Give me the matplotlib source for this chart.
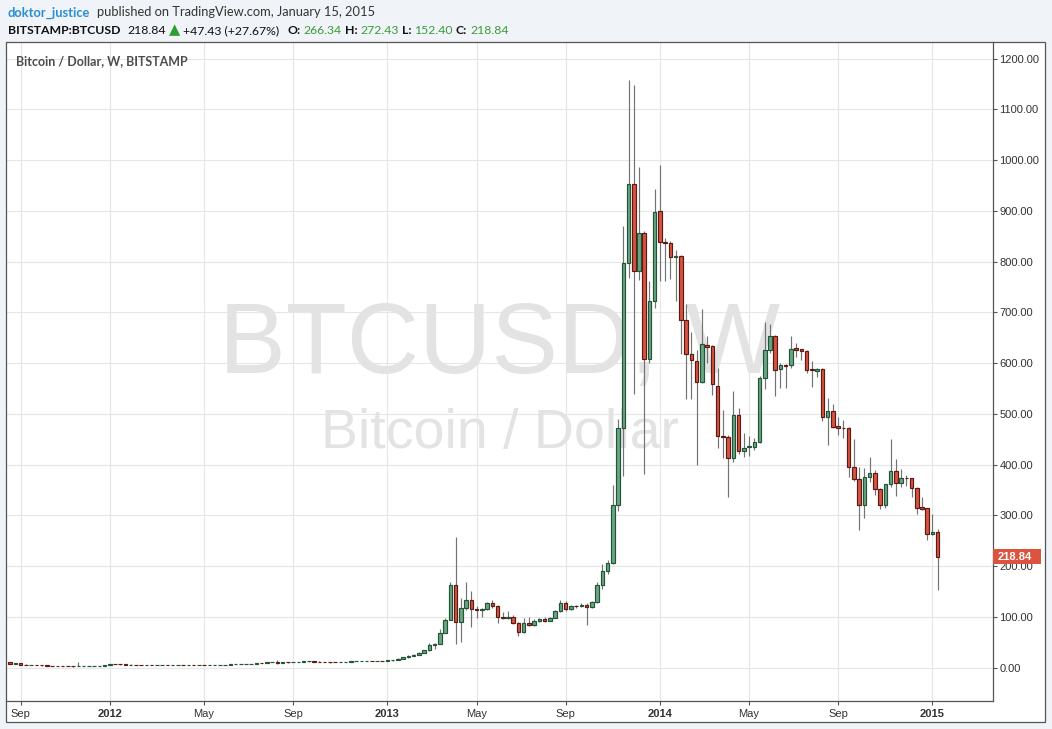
import matplotlib
matplotlib.use("Agg")
import matplotlib.pyplot as plt
import matplotlib.dates as mdates
from matplotlib.patches import Rectangle
import pandas as pd

W, H = 1052, 729

# ---------------- data (weekly BITSTAMP:BTCUSD) ----------------
start_week = "2011-08-22"

opens = [
    10.8, 7.9, 8.3, 5.9, 5.1, 5.3, 5.0, 4.2, 4.0, 3.2, 3.3, 3.0, 2.9, 2.4, 2.5, 2.8, 3.0, 3.2, 3.9,
    5.0, 6.8, 6.6, 6.3, 5.6, 5.9, 5.6, 4.4, 4.9, 4.8, 4.9, 5.3, 4.6, 4.9, 4.95, 4.9, 5.1, 5.0, 5.1, 5.0,
    5.1, 5.15, 5.3, 5.5, 6.4, 6.5, 6.7, 6.8, 7.6, 8.9, 8.85, 10.9, 11.5, 9.0, 10.6, 10.4, 11.0, 11.7,
    12.2, 12.4, 11.9, 11.8, 11.7, 10.6, 10.55, 10.9, 11.7, 12.3, 12.6, 13.4, 13.5, 13.4, 13.5,
    13.4, 14.2, 15.6, 17.8, 20.4, 23.6, 25.8, 29.6, 33.8, 45.5, 47.0, 68.5, 94.0, 162.0, 89.0, 117.0,
    133.0, 115.0, 113.0, 115.0, 128.0, 121.0, 99.0, 98.0, 99.0, 88.0, 71.0, 87.0, 84.0, 91.0, 95.0,
    92.0, 98.0, 111.0, 127.0, 116.0, 122.0, 121.0, 124.0, 120.0, 129.0, 163.0, 190.0, 206.0, 320.0,
    473.0, 797.0, 952.0, 782.0, 857.0, 609.0, 723.0,
    900.0, 839.0, 836.0, 809.0, 811.0, 684.0, 617.0, 605.0, 563.0, 636.0, 633.0, 555.0, 456.0, 455.0,
    413.0, 497.0, 426.0, 434.0, 435.0, 445.0, 570.0, 626.0, 654.0, 588.0, 597.0, 596.0, 630.0, 627.0,
    624.0, 589.0, 584.0, 588.0, 494.0, 506.0, 476.0, 473.0, 472.0, 396.0, 371.0, 320.0, 375.0, 384.0,
    352.0, 320.0, 361.0, 387.0, 363.0, 374.0, 373.0, 354.0, 317.0, 314.0, 263.0, 266.34,
]
highs = [
    11.2, 8.6, 8.4, 6.4, 5.6, 5.5, 5.1, 4.3, 4.1, 3.5, 3.4, 3.1, 3.0, 12.0, 3.0, 3.1, 3.3, 4.0, 5.2,
    7.1, 7.2, 6.7, 6.4, 6.2, 6.0, 5.7, 5.1, 5.0, 5.0, 5.4, 5.4, 5.0, 5.0, 5.0, 5.2, 5.2, 5.2, 5.1, 5.2,
    5.2, 5.4, 5.6, 6.5, 6.6, 6.8, 7.0, 7.8, 9.0, 9.2, 11.0, 11.8, 15.4, 10.9, 10.9, 11.2, 11.8, 12.4,
    12.5, 12.9, 12.1, 11.9, 11.8, 11.0, 11.0, 11.8, 12.4, 12.7, 13.5, 13.7, 13.6, 13.6, 13.6,
    14.5, 15.9, 18.0, 20.6, 24.0, 27.0, 30.5, 34.5, 48.5, 48.5, 76.0, 98.0, 168.0, 258.0, 138.0, 169.0,
    151.0, 122.0, 117.0, 130.0, 133.0, 124.0, 110.0, 111.0, 104.0, 90.0, 98.0, 99.0, 96.0, 98.0, 99.0,
    100.0, 113.0, 133.0, 131.0, 124.0, 124.0, 127.0, 127.0, 131.0, 169.0, 205.0, 212.0, 360.0, 490.0,
    871.0, 1158.0, 1148.0, 986.0, 860.0, 761.0, 944.0,
    991.0, 846.0, 841.0, 823.0, 813.0, 716.0, 662.0, 625.0, 706.0, 653.0, 636.0, 591.0, 507.0, 458.0,
    545.0, 511.0, 463.0, 456.0, 452.0, 575.0, 681.0, 677.0, 656.0, 600.0, 599.0, 654.0, 639.0, 628.0,
    626.0, 604.0, 590.0, 590.0, 531.0, 520.0, 493.0, 487.0, 474.0, 450.0, 395.0, 394.0, 415.0, 389.0,
    353.0, 362.0, 450.0, 411.0, 391.0, 380.0, 374.0, 355.0, 336.0, 315.0, 303.0, 272.43,
]
lows = [
    7.6, 7.5, 5.6, 4.8, 4.6, 4.8, 4.0, 3.7, 2.5, 2.6, 2.9, 2.8, 2.1, 2.3, 2.4, 2.7, 2.9, 3.1, 3.8,
    4.9, 6.3, 6.0, 5.5, 5.5, 5.5, 4.2, 4.3, 4.7, 4.7, 4.8, 4.6, 4.6, 4.8, 4.8, 4.9, 4.9, 4.9, 4.9, 4.9,
    5.0, 5.1, 5.2, 5.5, 6.2, 6.3, 6.5, 6.8, 7.5, 8.4, 8.8, 10.8, 7.5, 8.8, 10.0, 10.3, 10.9, 11.6,
    12.0, 11.8, 11.6, 11.5, 10.0, 10.4, 10.5, 10.8, 11.6, 12.1, 12.5, 13.2, 13.2, 13.3, 13.1,
    13.2, 14.0, 15.4, 17.2, 19.8, 22.5, 25.5, 29.0, 33.5, 37.0, 46.5, 68.0, 93.0, 46.0, 50.0, 113.0,
    80.0, 98.0, 99.0, 114.0, 118.0, 88.5, 95.0, 96.0, 86.0, 62.0, 68.0, 82.0, 82.0, 89.0, 90.0,
    91.0, 97.0, 110.0, 112.0, 114.0, 117.0, 119.0, 84.0, 117.0, 128.0, 154.0, 185.0, 204.0, 309.0,
    378.0, 768.0, 540.0, 764.0, 381.0, 600.0, 708.0,
    761.0, 761.0, 765.0, 722.0, 617.0, 529.0, 529.0, 399.0, 560.0, 600.0, 538.0, 433.0, 413.0, 336.0,
    406.0, 420.0, 415.0, 417.0, 428.0, 443.0, 548.0, 620.0, 536.0, 551.0, 551.0, 590.0, 612.0, 607.0,
    580.0, 553.0, 573.0, 485.0, 439.0, 472.0, 458.0, 453.0, 376.0, 367.0, 272.0, 294.0, 366.0, 340.0,
    313.0, 314.0, 355.0, 339.0, 355.0, 357.0, 336.0, 303.0, 310.0, 252.0, 262.0, 152.40,
]
closes = [
    7.9, 8.3, 5.9, 5.1, 5.3, 5.0, 4.2, 4.0, 3.2, 3.3, 3.0, 2.9, 2.4, 2.5, 2.8, 3.0, 3.2, 3.9, 5.0,
    6.8, 6.6, 6.3, 5.6, 5.9, 5.6, 4.4, 4.9, 4.8, 4.9, 5.3, 4.6, 4.9, 4.95, 4.9, 5.1, 5.0, 5.1, 5.0, 5.1,
    5.15, 5.3, 5.5, 6.4, 6.5, 6.7, 6.8, 7.6, 8.9, 8.85, 10.9, 11.5, 9.0, 10.6, 10.4, 11.0, 11.7, 12.2,
    12.4, 11.9, 11.8, 11.7, 10.6, 10.55, 10.9, 11.7, 12.3, 12.6, 13.4, 13.5, 13.4, 13.5, 13.4,
    14.2, 15.6, 17.8, 20.4, 23.6, 25.8, 29.6, 33.8, 45.5, 47.0, 68.5, 94.0, 162.0, 89.0, 117.0, 133.0,
    115.0, 113.0, 115.0, 128.0, 121.0, 99.0, 98.0, 99.0, 88.0, 71.0, 87.0, 84.0, 91.0, 95.0, 92.0,
    98.0, 111.0, 127.0, 116.0, 122.0, 121.0, 124.0, 120.0, 129.0, 163.0, 190.0, 206.0, 320.0, 473.0,
    797.0, 952.0, 782.0, 857.0, 609.0, 723.0, 898.0,
    839.0, 836.0, 809.0, 811.0, 684.0, 617.0, 607.0, 563.0, 637.0, 632.0, 558.0, 456.0, 454.0, 413.0,
    497.0, 426.0, 433.0, 437.0, 445.0, 570.0, 626.0, 654.0, 586.0, 597.0, 595.0, 627.0, 626.0, 623.0,
    586.0, 586.0, 588.0, 493.0, 506.0, 475.0, 473.0, 472.0, 396.0, 371.0, 320.0, 375.0, 383.0, 352.0,
    320.0, 361.0, 387.0, 363.0, 374.0, 373.0, 354.0, 315.0, 312.0, 263.0, 266.34, 218.84,
]

price_ticks = list(range(0, 1300, 100))
time_tick_dates = ["2011-09-05", "2012-01-02", "2012-05-07", "2012-09-03", "2013-01-07",
                   "2013-05-06", "2013-09-02", "2014-01-06", "2014-05-05", "2014-09-01", "2015-01-05"]
time_tick_labels = ["Sep", "2012", "May", "Sep", "2013", "May", "Sep", "2014", "May", "Sep", "2015"]
last_price = closes[-1]

# ---------------- styles ----------------
BG = "#f0f3f7"
GREEN_FILL, GREEN_EDGE = "#6ba583", "#225437"
RED_FILL, RED_EDGE = "#d75442", "#5b1a13"
WICK = "#737375"
GRID = "#e6e6e6"
AXCOL = "#555555"
TXT_GREEN = "#3a9d3a"

fig = plt.figure(figsize=(W / 100, H / 100), dpi=100, facecolor=BG)


def fx(x):
    return x / W


def fy(y):
    return 1 - y / H


# panel
px0, py0, px1, py1 = 6.3, 41.7, 1045.0, 722.3
fig.patches.append(Rectangle((fx(px0), fy(py1)), fx(px1 - px0), (py1 - py0) / H,
                             transform=fig.transFigure, facecolor="white", edgecolor="none", zorder=-2))
fig.patches.append(Rectangle((fx(px0), fy(py1)), fx(px1 - px0), (py1 - py0) / H,
                             transform=fig.transFigure, facecolor="none", edgecolor=AXCOL, lw=0.9, zorder=6))

# axes
ax_l, ax_r, ax_t, ax_b = 6.3, 992.5, 41.7, 701.0
ax = fig.add_axes([fx(ax_l), fy(ax_b), fx(ax_r - ax_l), (ax_b - ax_t) / H])
ax.set_facecolor("white")

dates = pd.date_range(start_week, periods=len(closes), freq="7D")
xs = mdates.date2num(dates)

base = mdates.date2num(pd.Timestamp("2011-09-05"))
ax.set_xlim(base - 19.2, base + 1298.2)
ax.set_ylim(-65.8, 1233.3)

# wicks
ax.vlines(xs, lows, highs, color=WICK, lw=0.85, zorder=2)
# bodies
bottoms = [min(o, c) for o, c in zip(opens, closes)]
heights = [abs(c - o) for o, c in zip(opens, closes)]
up = [c >= o for o, c in zip(opens, closes)]
fills = [GREEN_FILL if u else RED_FILL for u in up]
edges = [GREEN_EDGE if u else RED_EDGE for u in up]
ax.bar(xs, heights, bottom=bottoms, width=4.7, color=fills, edgecolor=edges, linewidth=0.85, zorder=3)

# grid & ticks
ax.set_yticks(price_ticks)
ax.set_yticklabels([f"{v:.2f}" for v in price_ticks], fontsize=8, color="#333333",
                   fontfamily="Liberation Sans")
tick_x = [mdates.date2num(pd.Timestamp(d)) for d in time_tick_dates]
ax.set_xticks(tick_x)
ax.set_xticklabels(time_tick_labels, fontsize=8, color="#333333", fontfamily="Liberation Sans")
for lbl in ax.get_xticklabels():
    if lbl.get_text().isdigit():
        lbl.set_fontweight("bold")
ax.yaxis.tick_right()
ax.tick_params(axis="y", length=3, width=0.8, color=AXCOL, pad=2)
ax.tick_params(axis="x", length=3, width=0.8, color=AXCOL, pad=3)
ax.grid(True, color=GRID, lw=0.8, zorder=0)
ax.set_axisbelow(True)
for s in ["left", "top"]:
    ax.spines[s].set_visible(False)
for s in ["right", "bottom"]:
    ax.spines[s].set_color(AXCOL)
    ax.spines[s].set_linewidth(0.9)

# watermark
cx = (500 - ax_l) / (ax_r - ax_l)
ax.text(cx, (ax_b - 373) / (ax_b - ax_t), "BTCUSD, W", transform=ax.transAxes, ha="center",
        va="baseline", fontsize=72, color="#e3e3e3", fontfamily="Liberation Sans", zorder=1)
ax.text(cx, (ax_b - 448) / (ax_b - ax_t), "Bitcoin / Dollar", transform=ax.transAxes, ha="center",
        va="baseline", fontsize=40, color="#e3e3e3", fontfamily="Liberation Sans", zorder=1)

# symbol label inside chart
fig.text(fx(16), fy(65), "Bitcoin / Dollar, W, BITSTAMP", fontsize=9, fontweight="bold",
         color="#4d4d4d", fontfamily="Lato", va="baseline")

# last price label
ly = 667.6 - 0.5075 * last_price
fig.patches.append(Rectangle((fx(992.5), fy(ly + 7.5)), fx(48), 15 / H, transform=fig.transFigure,
                             facecolor="#dc5340", edgecolor="none", zorder=7))
fig.text(fx(998), fy(ly), f"{last_price:.2f}", fontsize=8, fontweight="bold", color="white",
         fontfamily="Liberation Sans", va="center", zorder=8)

# header: pieces placed at their reference x positions, never overlapping the previous one
hdr = [
    (8, 16.5, "doktor_justice", "bold", "#2a8fd0", "Lato", 9.3),
    (97, 16.5, "published on TradingView.com, January 15, 2015", "normal", "#333333", "Lato", 9.3),
    (8, 34.3, "BITSTAMP:BTCUSD", "bold", "#111111", "Lato", 8.8),
    (127, 34.3, f"{last_price:.2f}", "normal", "#111111", "Lato", 8.8),
    (166, 34.3, "\u25B2", "normal", "#2e9e2e", "DejaVu Sans", 10.5),
    (182, 34.3, "+47.43 (+27.67%)", "normal", "#111111", "Lato", 8.8),
    (287, 34.3, "O:", "bold", "#111111", "Lato", 8.8),
    (302, 34.3, f"{opens[-1]:.2f}", "normal", TXT_GREEN, "Lato", 8.8),
    (345, 34.3, "H:", "bold", "#111111", "Lato", 8.8),
    (359, 34.3, f"{highs[-1]:.2f}", "normal", TXT_GREEN, "Lato", 8.8),
    (401, 34.3, "L:", "bold", "#111111", "Lato", 8.8),
    (411, 34.3, f"{lows[-1]:.2f}", "normal", TXT_GREEN, "Lato", 8.8),
    (455, 34.3, "C:", "bold", "#111111", "Lato", 8.8),
    (469, 34.3, f"{closes[-1]:.2f}", "normal", TXT_GREEN, "Lato", 8.8),
]
renderer = fig.canvas.get_renderer()
prev_end = {16.5: 0.0, 34.3: 0.0}
for x, y, t, wgt, col, fam, fs in hdr:
    x = max(x, prev_end[y] + 3)
    txt = fig.text(fx(x), fy(y), t, fontsize=fs, fontweight=wgt, color=col, fontfamily=fam,
                   va="baseline")
    bb = txt.get_window_extent(renderer=renderer)
    prev_end[y] = bb.x1

fig.savefig("out.png", dpi=100, facecolor=BG)
